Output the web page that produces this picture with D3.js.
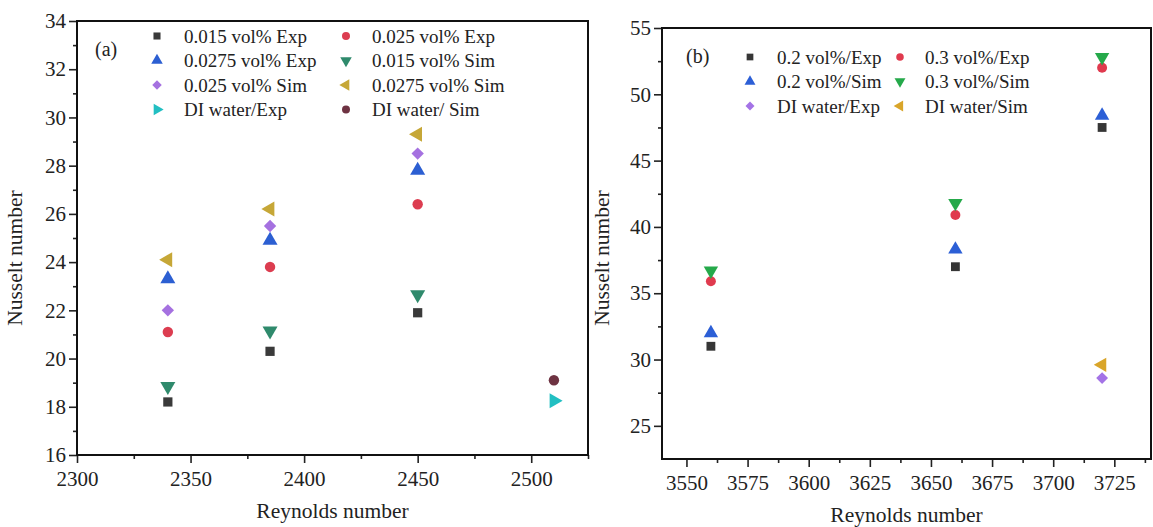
<!DOCTYPE html>
<html>
<head>
<meta charset="utf-8">
<script src="https://cdn.jsdelivr.net/npm/d3@7"></script>
<style>
  html, body { margin: 0; padding: 0; background: #fff; }
  svg { display: block; }
  svg text { font-family: "Liberation Serif", "Times New Roman", serif; fill: #222; }
</style>
</head>
<body>
<svg id="chart" width="1153" height="527"></svg>
<script>
// ---- Panel (a): low-concentration nanofluids ----
const reA = [2340, 2385, 2450];
const reDiA = [2510];
const nuA_015Exp = [18.2, 20.3, 21.9];
const nuA_025Exp = [21.1, 23.8, 26.4];
const nuA_0275Exp = [23.3, 24.9, 27.8];
const nuA_015Sim = [18.85, 21.15, 22.65];
const nuA_025Sim = [22.0, 25.5, 28.5];
const nuA_0275Sim = [24.1, 26.2, 29.3];
const nuA_diExp = [18.25];
const nuA_diSim = [19.1];
const legendA = ["0.015 vol% Exp", "0.025 vol% Exp", "0.0275 vol% Exp", "0.015 vol% Sim",
                 "0.025 vol% Sim", "0.0275 vol% Sim", "DI water/Exp", "DI water/ Sim"];
const xTicksA = [2300, 2350, 2400, 2450, 2500];
const yTicksA = [16, 18, 20, 22, 24, 26, 28, 30, 32, 34];

// ---- Panel (b): higher-concentration nanofluids ----
const reB = [3560, 3660, 3720];
const reDiB = [3720];
const nuB_02Exp = [31.0, 37.0, 47.5];
const nuB_03Exp = [35.9, 40.9, 52.0];
const nuB_02Sim = [32.0, 38.3, 48.4];
const nuB_03Sim = [36.7, 41.8, 52.8];
const nuB_diExp = [28.6];
const nuB_diSim = [29.6];
const legendB = ["0.2 vol%/Exp", "0.3 vol%/Exp", "0.2 vol%/Sim", "0.3 vol%/Sim",
                 "DI water/Exp", "DI water/Sim"];
const xTicksB = [3550, 3575, 3600, 3625, 3650, 3675, 3700, 3725];
const yTicksB = [25, 30, 35, 40, 45, 50, 55];

// marker shapes: d3 symbol type + rotation
const shapes = {
  square:  { type: d3.symbolSquare, rot: 0, k: 1.0 },
  circle:  { type: d3.symbolCircle, rot: 0, k: 1.0 },
  up:      { type: d3.symbolTriangle, rot: 0, k: 1.15 },
  down:    { type: d3.symbolTriangle, rot: 180, k: 1.15 },
  diamond: { type: d3.symbolSquare, rot: 45, k: 0.9 },
  left:    { type: d3.symbolTriangle, rot: -90, k: 1.15 },
  right:   { type: d3.symbolTriangle, rot: 90, k: 1.15 }
};

const svg = d3.select("#chart");
const SERIF = '"Liberation Serif", "Times New Roman", serif';

function drawPanel(cfg) {
  const x = d3.scaleLinear().domain(cfg.xDomain).range([cfg.left, cfg.right]);
  const y = d3.scaleLinear().domain(cfg.yDomain).range([cfg.bottom, cfg.top]);
  const g = svg.append("g");

  // minor ticks
  g.append("g")
    .attr("transform", `translate(0,${cfg.bottom})`)
    .call(d3.axisBottom(x).tickValues(cfg.xMinor).tickSize(4).tickFormat(""))
    .call(a => a.select(".domain").remove());
  g.append("g")
    .attr("transform", `translate(${cfg.left},0)`)
    .call(d3.axisLeft(y).tickValues(cfg.yMinor).tickSize(4).tickFormat(""))
    .call(a => a.select(".domain").remove());

  // major ticks + labels
  const xa = g.append("g")
    .attr("transform", `translate(0,${cfg.bottom})`)
    .call(d3.axisBottom(x).tickValues(cfg.xTicks).tickSize(8).tickPadding(8).tickFormat(d3.format("d")));
  const ya = g.append("g")
    .attr("transform", `translate(${cfg.left},0)`)
    .call(d3.axisLeft(y).tickValues(cfg.yTicks).tickSize(8).tickPadding(3).tickFormat(d3.format("d")));
  [xa, ya].forEach(a => {
    a.select(".domain").remove();
    a.attr("font-family", null).attr("font-size", null);
    a.selectAll("text")
      .style("font-family", SERIF).style("font-size", "21px").style("fill", "#222");
  });
  g.selectAll(".tick line").attr("stroke", "#222").attr("stroke-width", 1.6);

  // frame
  g.append("rect")
    .attr("x", cfg.left).attr("y", cfg.top)
    .attr("width", cfg.right - cfg.left).attr("height", cfg.bottom - cfg.top)
    .attr("fill", "none").attr("stroke", "#111").attr("stroke-width", 2);

  // axis titles
  g.append("text")
    .attr("x", (cfg.left + cfg.right) / 2).attr("y", cfg.bottom + 63)
    .attr("text-anchor", "middle").style("font-size", "21.5px")
    .text("Reynolds number");
  g.append("text")
    .attr("transform", `translate(${cfg.yTitleX},${cfg.yTitleY}) rotate(-90)`)
    .attr("text-anchor", "middle").style("font-size", "21.5px")
    .text("Nusselt number");

  // panel tag
  g.append("text")
    .attr("x", cfg.tag[1]).attr("y", cfg.tag[2])
    .style("font-size", "20px").text(cfg.tag[0]);

  // data markers
  cfg.series.forEach(s => {
    const sh = shapes[s.shape];
    const sym = d3.symbol().type(sh.type).size(cfg.markerSize * sh.k);
    g.append("g").selectAll("path")
      .data(s.xs.map((xv, i) => [xv, s.ys[i]]))
      .join("path")
      .attr("d", sym)
      .attr("transform", d => `translate(${x(d[0])},${y(d[1])}) rotate(${sh.rot})`)
      .attr("fill", s.color);
  });

  // legend (two columns)
  cfg.series.forEach((s, i) => {
    const col = i % 2, row = Math.floor(i / 2);
    const sx = cfg.legend.symX[col], tx = cfg.legend.textX[col];
    const cy = cfg.legend.y0 + row * cfg.legend.dy;
    const sh = shapes[s.shape];
    g.append("path")
      .attr("d", d3.symbol().type(sh.type).size(cfg.legendSize * sh.k))
      .attr("transform", `translate(${sx},${cy}) rotate(${sh.rot})`)
      .attr("fill", s.color);
    g.append("text")
      .attr("x", tx).attr("y", cy + 6.5)
      .style("font-size", "19px")
      .text(s.name);
  });
}

drawPanel({
  left: 77, right: 588, top: 21, bottom: 455,
  xDomain: [2300, 2525], yDomain: [16, 34],
  xTicks: xTicksA, yTicks: yTicksA,
  xMinor: [2325, 2375, 2425, 2475, 2525],
  yMinor: [17, 19, 21, 23, 25, 27, 29, 31, 33],
  yTitleX: 22, yTitleY: 258,
  tag: ["(a)", 95, 56],
  markerSize: 85, legendSize: 50,
  legend: { symX: [157, 346], textX: [184, 372], y0: 36, dy: 24.5 },
  series: [
    { name: legendA[0], xs: reA, ys: nuA_015Exp, shape: "square", color: "#3a3a3a" },
    { name: legendA[1], xs: reA, ys: nuA_025Exp, shape: "circle", color: "#dc3d50" },
    { name: legendA[2], xs: reA, ys: nuA_0275Exp, shape: "up", color: "#2c5fd2" },
    { name: legendA[3], xs: reA, ys: nuA_015Sim, shape: "down", color: "#2f8a6c" },
    { name: legendA[4], xs: reA, ys: nuA_025Sim, shape: "diamond", color: "#a571e0" },
    { name: legendA[5], xs: reA, ys: nuA_0275Sim, shape: "left", color: "#c6a737" },
    { name: legendA[6], xs: reDiA, ys: nuA_diExp, shape: "right", color: "#22bfc2" },
    { name: legendA[7], xs: reDiA, ys: nuA_diSim, shape: "circle", color: "#6e3342" }
  ]
});

drawPanel({
  left: 662, right: 1151, top: 28, bottom: 459,
  xDomain: [3540, 3740], yDomain: [22.5, 55],
  xTicks: xTicksB, yTicks: yTicksB,
  xMinor: [3562.5, 3587.5, 3612.5, 3637.5, 3662.5, 3687.5, 3712.5, 3737.5],
  yMinor: [27.5, 32.5, 37.5, 42.5, 47.5, 52.5],
  yTitleX: 609, yTitleY: 258,
  tag: ["(b)", 686, 63],
  markerSize: 78, legendSize: 45,
  legend: { symX: [750, 900], textX: [777, 925], y0: 57, dy: 24.5 },
  series: [
    { name: legendB[0], xs: reB, ys: nuB_02Exp, shape: "square", color: "#363636" },
    { name: legendB[1], xs: reB, ys: nuB_03Exp, shape: "circle", color: "#e03a4e" },
    { name: legendB[2], xs: reB, ys: nuB_02Sim, shape: "up", color: "#2c5fd6" },
    { name: legendB[3], xs: reB, ys: nuB_03Sim, shape: "down", color: "#25a94a" },
    { name: legendB[4], xs: reDiB, ys: nuB_diExp, shape: "diamond", color: "#a473e6" },
    { name: legendB[5], xs: reDiB, ys: nuB_diSim, shape: "left", color: "#d9a52a" }
  ]
});
</script>
</body>
</html>
